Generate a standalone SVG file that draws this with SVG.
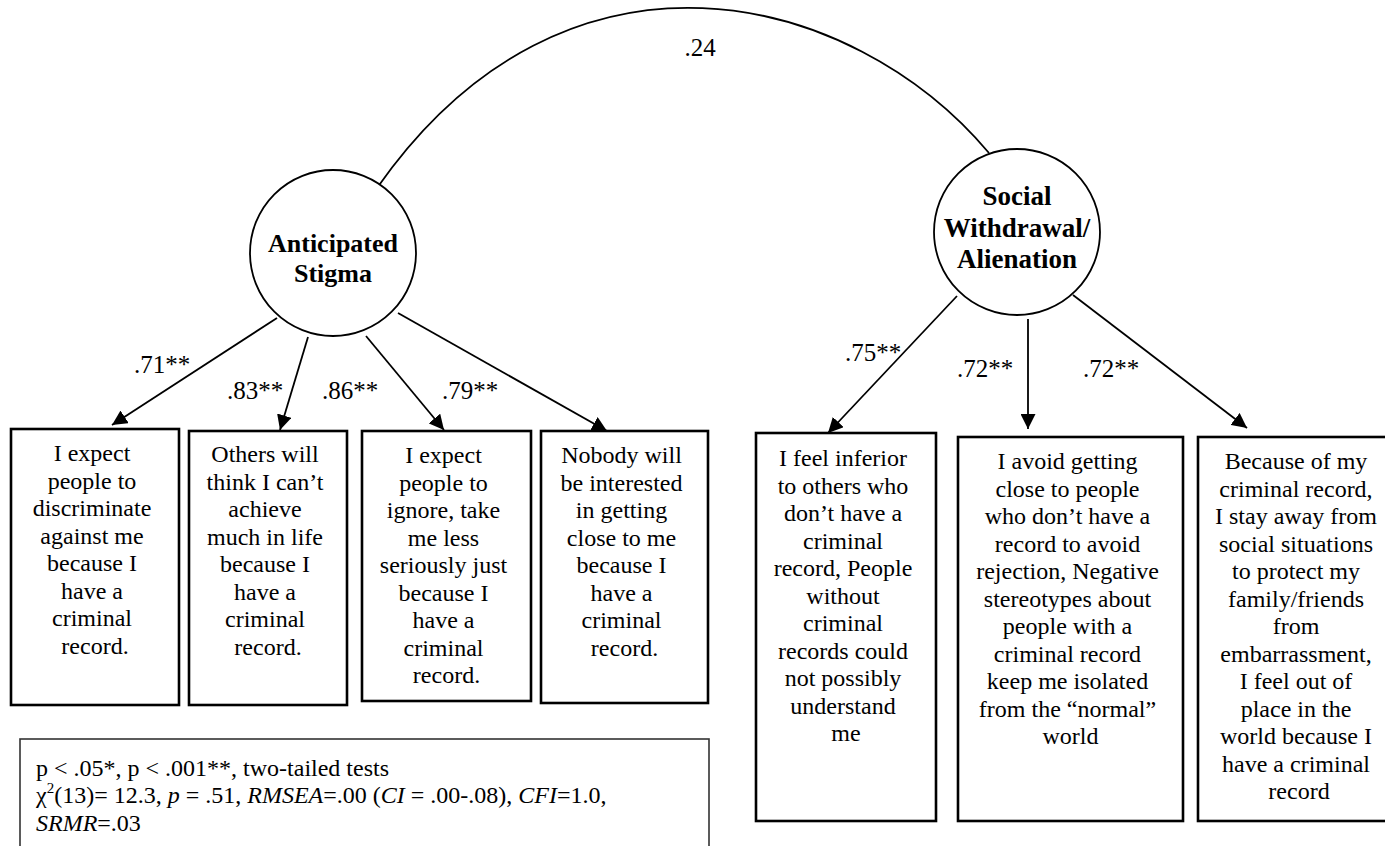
<svg xmlns="http://www.w3.org/2000/svg" width="1385" height="846" viewBox="0 0 1385 846">
  <defs>
    <marker id="arrow" markerUnits="userSpaceOnUse" markerWidth="15" markerHeight="15" viewBox="0 0 15 15" refX="15" refY="7.5" orient="auto">
      <path d="M0,0 L15,7.5 L0,15 z" fill="#000"/>
    </marker>
    <style>
      .bg { fill: #fff; }
      .latent { fill: #fff; stroke: #000; stroke-width: 1.8; }
      .latent-label { font-family: "Liberation Serif", "Times New Roman", serif; font-weight: bold; text-anchor: middle; fill: #000; }
      .item { fill: #fff; stroke: #000; stroke-width: 2.6; }
      .item-text { font-family: "Liberation Serif", "Times New Roman", serif; font-size: 24px; text-anchor: middle; fill: #000; }
      .path { stroke: #000; stroke-width: 1.8; fill: none; marker-end: url(#arrow); }
      .cov { stroke: #000; stroke-width: 1.8; fill: none; }
      .coef { font-family: "Liberation Serif", "Times New Roman", serif; font-size: 25px; fill: #000; }
      .note-box { fill: #fff; stroke: #333; stroke-width: 1.6; }
      .note { font-family: "Liberation Serif", "Times New Roman", serif; font-size: 24px; fill: #000; }
      .it { font-style: italic; }
    </style>
  </defs>

  <rect class="bg" x="0" y="0" width="1385" height="846"/>

  <!-- connectors: covariance arc and factor loadings -->
  <g id="connectors">
    <path class="cov" d="M377,188 C566,-82 852,-10 989,153"/>
    <text class="coef" x="700" y="56" text-anchor="middle">.24</text>

    <line class="path" x1="277" y1="318" x2="112" y2="425"/>
    <line class="path" x1="308" y1="337" x2="280" y2="430"/>
    <line class="path" x1="366" y1="336" x2="444" y2="430"/>
    <line class="path" x1="398" y1="313" x2="607" y2="431"/>
    <text class="coef" x="134" y="373">.71**</text>
    <text class="coef" x="227" y="399">.83**</text>
    <text class="coef" x="322" y="399">.86**</text>
    <text class="coef" x="442" y="399">.79**</text>

    <line class="path" x1="957" y1="296" x2="828" y2="433"/>
    <line class="path" x1="1028" y1="319" x2="1028" y2="429"/>
    <line class="path" x1="1073" y1="295" x2="1247" y2="428"/>
    <text class="coef" x="845" y="361">.75**</text>
    <text class="coef" x="957" y="377">.72**</text>
    <text class="coef" x="1083" y="377">.72**</text>
  </g>

  <!-- latent factors -->
  <g id="anticipated-stigma">
    <circle class="latent" cx="333" cy="253" r="83"/>
    <text class="latent-label" font-size="26" x="333" y="252">Anticipated</text>
    <text class="latent-label" font-size="26" x="333" y="282">Stigma</text>
  </g>

  <g id="social-withdrawal">
    <circle class="latent" cx="1017" cy="232" r="83"/>
    <text class="latent-label" font-size="27" x="1017" y="205">Social</text>
    <text class="latent-label" font-size="27" x="1017" y="237">Withdrawal/</text>
    <text class="latent-label" font-size="27" x="1017" y="268">Alienation</text>
  </g>

  <!-- observed items: anticipated stigma -->
  <g id="item-as1">
    <rect class="item" x="11" y="429" width="168" height="276"/>
    <text class="item-text" x="95" y="461">
      <tspan x="95">I expect</tspan>
      <tspan x="95" dy="27.5">people to</tspan>
      <tspan x="95" dy="27.5">discriminate</tspan>
      <tspan x="95" dy="27.5">against me</tspan>
      <tspan x="95" dy="27.5">because I</tspan>
      <tspan x="95" dy="27.5">have a</tspan>
      <tspan x="95" dy="27.5">criminal</tspan>
      <tspan x="95" dy="27.5">record.</tspan>
    </text>
  </g>

  <g id="item-as2">
    <rect class="item" x="189" y="431" width="158" height="274"/>
    <text class="item-text" x="268" y="462">
      <tspan x="268">Others will</tspan>
      <tspan x="268" dy="27.5">think I can’t</tspan>
      <tspan x="268" dy="27.5">achieve</tspan>
      <tspan x="268" dy="27.5">much in life</tspan>
      <tspan x="268" dy="27.5">because I</tspan>
      <tspan x="268" dy="27.5">have a</tspan>
      <tspan x="268" dy="27.5">criminal</tspan>
      <tspan x="268" dy="27.5">record.</tspan>
    </text>
  </g>

  <g id="item-as3">
    <rect class="item" x="362" y="431" width="169" height="270"/>
    <text class="item-text" x="446.5" y="463">
      <tspan x="446.5">I expect</tspan>
      <tspan x="446.5" dy="27.5">people to</tspan>
      <tspan x="446.5" dy="27.5">ignore, take</tspan>
      <tspan x="446.5" dy="27.5">me less</tspan>
      <tspan x="446.5" dy="27.5">seriously just</tspan>
      <tspan x="446.5" dy="27.5">because I</tspan>
      <tspan x="446.5" dy="27.5">have a</tspan>
      <tspan x="446.5" dy="27.5">criminal</tspan>
      <tspan x="446.5" dy="27.5">record.</tspan>
    </text>
  </g>

  <g id="item-as4">
    <rect class="item" x="541" y="431" width="167" height="272"/>
    <text class="item-text" x="624.5" y="463">
      <tspan x="624.5">Nobody will</tspan>
      <tspan x="624.5" dy="27.5">be interested</tspan>
      <tspan x="624.5" dy="27.5">in getting</tspan>
      <tspan x="624.5" dy="27.5">close to me</tspan>
      <tspan x="624.5" dy="27.5">because I</tspan>
      <tspan x="624.5" dy="27.5">have a</tspan>
      <tspan x="624.5" dy="27.5">criminal</tspan>
      <tspan x="624.5" dy="27.5">record.</tspan>
    </text>
  </g>

  <!-- observed items: social withdrawal / alienation -->
  <g id="item-sw1">
    <rect class="item" x="756" y="433" width="180" height="388"/>
    <text class="item-text" x="846" y="466">
      <tspan x="846">I feel inferior</tspan>
      <tspan x="846" dy="27.5">to others who</tspan>
      <tspan x="846" dy="27.5">don’t have a</tspan>
      <tspan x="846" dy="27.5">criminal</tspan>
      <tspan x="846" dy="27.5">record, People</tspan>
      <tspan x="846" dy="27.5">without</tspan>
      <tspan x="846" dy="27.5">criminal</tspan>
      <tspan x="846" dy="27.5">records could</tspan>
      <tspan x="846" dy="27.5">not possibly</tspan>
      <tspan x="846" dy="27.5">understand</tspan>
      <tspan x="846" dy="27.5">me</tspan>
    </text>
  </g>

  <g id="item-sw2">
    <rect class="item" x="958" y="437" width="225" height="384"/>
    <text class="item-text" x="1070.5" y="469">
      <tspan x="1070.5">I avoid getting</tspan>
      <tspan x="1070.5" dy="27.5">close to people</tspan>
      <tspan x="1070.5" dy="27.5">who don’t have a</tspan>
      <tspan x="1070.5" dy="27.5">record to avoid</tspan>
      <tspan x="1070.5" dy="27.5">rejection, Negative</tspan>
      <tspan x="1070.5" dy="27.5">stereotypes about</tspan>
      <tspan x="1070.5" dy="27.5">people with a</tspan>
      <tspan x="1070.5" dy="27.5">criminal record</tspan>
      <tspan x="1070.5" dy="27.5">keep me isolated</tspan>
      <tspan x="1070.5" dy="27.5">from the “normal”</tspan>
      <tspan x="1070.5" dy="27.5">world</tspan>
    </text>
  </g>

  <g id="item-sw3">
    <rect class="item" x="1198" y="437" width="210" height="384"/>
    <text class="item-text" x="1299" y="469">
      <tspan x="1299">Because of my</tspan>
      <tspan x="1299" dy="27.5">criminal record,</tspan>
      <tspan x="1299" dy="27.5">I stay away from</tspan>
      <tspan x="1299" dy="27.5">social situations</tspan>
      <tspan x="1299" dy="27.5">to protect my</tspan>
      <tspan x="1299" dy="27.5">family/friends</tspan>
      <tspan x="1299" dy="27.5">from</tspan>
      <tspan x="1299" dy="27.5">embarrassment,</tspan>
      <tspan x="1299" dy="27.5">I feel out of</tspan>
      <tspan x="1299" dy="27.5">place in the</tspan>
      <tspan x="1299" dy="27.5">world because I</tspan>
      <tspan x="1299" dy="27.5">have a criminal</tspan>
      <tspan x="1299" dy="27.5">record</tspan>
    </text>
  </g>

  <!-- fit statistics note -->
  <g id="fit-note">
    <rect class="note-box" x="20" y="739" width="689" height="130"/>
    <text class="note" x="36" y="776">p &lt; .05*, p &lt; .001**, two-tailed tests</text>
    <text class="note" x="36" y="803">χ<tspan font-size="15" dy="-10">2</tspan><tspan dy="10">(13)= 12.3, </tspan><tspan class="it">p</tspan> = .51, <tspan class="it">RMSEA</tspan>=.00 (<tspan class="it">CI</tspan> = .00-.08), <tspan class="it">CFI</tspan>=1.0,</text>
    <text class="note" x="36" y="831"><tspan class="it">SRMR</tspan>=.03</text>
  </g>
</svg>
